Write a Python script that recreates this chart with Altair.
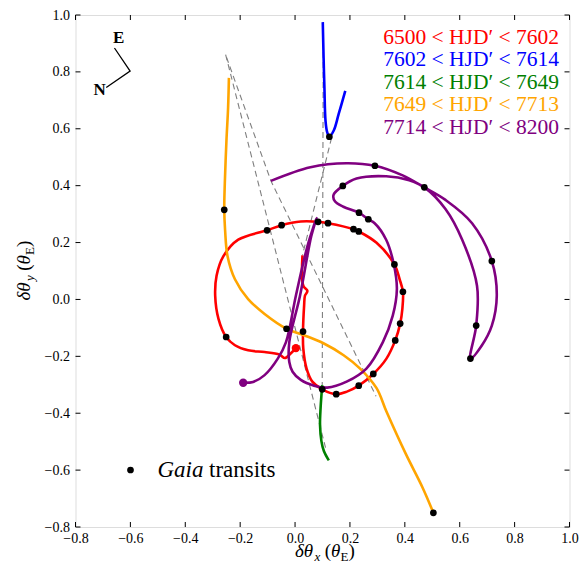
import altair as alt
import pandas as pd

SERIF = "Liberation Serif"
W, H = 494, 512

# ---------------- data ----------------
red_x = [0.003, -0.016, -0.037, -0.057, -0.111, -0.171, -0.219, -0.251, -0.279, -0.291, -0.286, -0.261, -0.207,
         -0.102, -0.049, 0.021, 0.084, 0.120, 0.213, 0.232, 0.297, 0.362, 0.381, 0.393, 0.391, 0.383, 0.365, 0.333,
         0.285, 0.232, 0.189, 0.150, 0.099, 0.063, 0.042, 0.030, 0.029, 0.033, 0.036, 0.045, 0.030, 0.027]
red_y = [-0.171, -0.190, -0.206, -0.194, -0.185, -0.179, -0.161, -0.132, -0.068, 0.013, 0.083, 0.152, 0.210,
         0.243, 0.261, 0.274, 0.273, 0.268, 0.247, 0.239, 0.199, 0.123, 0.071, 0.027, -0.033, -0.085, -0.144, -0.208,
         -0.262, -0.303, -0.324, -0.333, -0.316, -0.289, -0.243, -0.173, -0.113, -0.022, 0.013, 0.030, 0.048, 0.155]

blue_x = [0.101, 0.104, 0.107, 0.111, 0.117, 0.125, 0.141, 0.159, 0.183]
blue_y = [0.975, 0.850, 0.744, 0.628, 0.588, 0.573, 0.594, 0.652, 0.733]

green_x = [0.099, 0.093, 0.091, 0.096, 0.105, 0.123]
green_y = [-0.301, -0.382, -0.440, -0.498, -0.533, -0.566]

orange_x = [-0.241, -0.244, -0.250, -0.256, -0.258, -0.255, -0.246, -0.219, -0.171, -0.111, -0.031, 0.033,
            0.105, 0.177, 0.237, 0.297, 0.333, 0.404, 0.464, 0.504]
orange_y = [0.779, 0.674, 0.558, 0.407, 0.315, 0.245, 0.152, 0.071, 0.001, -0.051, -0.103, -0.126,
            -0.155, -0.196, -0.243, -0.312, -0.394, -0.544, -0.660, -0.750]

purple_x = [-0.189, -0.153, -0.111, -0.063, -0.033, 0.003, 0.045, 0.078, 0.059, 0.018, -0.021, -0.021, -0.009,
            0.021, 0.069, 0.117, 0.188, 0.260, 0.320, 0.356, 0.371, 0.360, 0.332, 0.290, 0.266, 0.233, 0.176,
            0.146, 0.140, 0.174, 0.224, 0.332, 0.416, 0.471, 0.548, 0.609, 0.663, 0.660, 0.639, 0.681, 0.717,
            0.735, 0.717, 0.645, 0.548, 0.471, 0.392, 0.291, 0.188, 0.056, -0.088]
purple_y = [-0.293, -0.290, -0.266, -0.208, -0.150, 0.013, 0.187, 0.286, 0.222, 0.013, -0.150, -0.220, -0.254,
            -0.283, -0.303, -0.310, -0.289, -0.243, -0.150, -0.057, 0.036, 0.123, 0.210, 0.268, 0.282, 0.305, 0.326,
            0.344, 0.367, 0.399, 0.425, 0.433, 0.419, 0.394, 0.318, 0.210, 0.048, -0.092, -0.208, -0.161, -0.092,
            0.013, 0.135, 0.268, 0.350, 0.394, 0.436, 0.470, 0.479, 0.465, 0.417]

seg_names = ["red", "blue", "green", "orange", "purple"]
seg_colors = ["#ff0000", "#0000ff", "#008000", "#ffa500", "#800080"]
seg_labels = ["6500 < HJD′ < 7602", "7602 < HJD′ < 7614", "7614 < HJD′ < 7649",
              "7649 < HJD′ < 7713", "7714 < HJD′ < 8200"]

dash1_x = [-0.253, 0.111]
dash1_y = [0.861, -0.521]
dash2_x = [-0.250, -0.088, 0.295]
dash2_y = [0.852, 0.417, -0.340]
dash3_x = [0.103, 0.099]
dash3_y = [0.975, -0.301]
dash4_x = [0.133, 0.027]
dash4_y = [0.568, 0.155]

gaia_x = [-0.258, -0.102, -0.049, 0.084, 0.120, 0.213, 0.232, 0.362, 0.393, 0.383, 0.365, 0.285, 0.232, 0.150,
          0.099, 0.029, -0.031, -0.251, 0.125, 0.174, 0.233, 0.267, 0.291, 0.471, 0.717, 0.660, 0.639, 0.504]
gaia_y = [0.315, 0.243, 0.261, 0.273, 0.268, 0.247, 0.239, 0.123, 0.027, -0.085, -0.144, -0.262, -0.303, -0.333,
          -0.316, -0.113, -0.103, -0.132, 0.572, 0.399, 0.305, 0.282, 0.470, 0.394, 0.135, -0.092, -0.208, -0.750]

start_x = [0.003, -0.189]
start_y = [-0.171, -0.293]
start_col = ["#ff0000", "#800080"]

compass_x = [-0.658, -0.601, -0.688]
compass_y = [0.884, 0.803, 0.745]
compass_lab = ["E", "N"]
compass_lab_x = [-0.643, -0.712]
compass_lab_y = [0.919, 0.735]

ticks = [-0.8, -0.6, -0.4, -0.2, 0.0, 0.2, 0.4, 0.6, 0.8, 1.0]

# ---------------- tables ----------------
curves = {"red": (red_x, red_y), "blue": (blue_x, blue_y), "green": (green_x, green_y),
          "orange": (orange_x, orange_y), "purple": (purple_x, purple_y)}
rows = []
for k, name in enumerate(seg_names):
    xs, ys = curves[name]
    for i, (a, b) in enumerate(zip(xs, ys)):
        rows.append({"seg": name, "k": k, "i": i, "x": a, "y": b})
curve_df = pd.DataFrame(rows)

drows = []
for j, (xs, ys) in enumerate([(dash1_x, dash1_y), (dash2_x, dash2_y), (dash3_x, dash3_y), (dash4_x, dash4_y)]):
    for i, (a, b) in enumerate(zip(xs, ys)):
        drows.append({"d": j, "i": i, "x": a, "y": b})
dash_df = pd.DataFrame(drows)

gaia_df = pd.DataFrame({"x": gaia_x, "y": gaia_y})
start_df = pd.DataFrame({"x": start_x, "y": start_y, "c": start_col})
comp_df = pd.DataFrame({"x": compass_x, "y": compass_y, "i": list(range(len(compass_x)))})
complab_df = pd.DataFrame({"x": compass_lab_x, "y": compass_lab_y, "t": compass_lab})
tickx_df = pd.DataFrame({"x": ticks})
ticky_df = pd.DataFrame({"y": ticks})
one = pd.DataFrame({"a": [0]})

xs_ = alt.Scale(domain=[-0.8, 1.0], nice=False, zero=False)
ys_ = alt.Scale(domain=[-0.8, 1.0], nice=False, zero=False)
xax = alt.Axis(values=ticks, format=".1f", ticks=False, domain=False, grid=False, title=None,
               labelFont=SERIF, labelFontSize=14, labelColor="black", labelPadding=4,
               labelFlush=False, labelOverlap=False)
yax = alt.Axis(values=ticks, format=".1f", ticks=False, domain=False, grid=False, title=None,
               labelFont=SERIF, labelFontSize=14, labelColor="black", labelPadding=6,
               labelFlush=False, labelOverlap=False)
X = alt.X("x:Q", scale=xs_, axis=xax)
Y = alt.Y("y:Q", scale=ys_, axis=yax)

dashed = alt.Chart(dash_df).mark_line(color="#7f7f7f", strokeWidth=1.1, strokeDash=[6, 4]).encode(
    x=X, y=Y, detail="d:N", order="i:Q")

lines = alt.Chart(curve_df).mark_line(strokeWidth=2.6, interpolate="catmull-rom").encode(
    x=X, y=Y, detail="seg:N", order="i:Q",
    color=alt.Color("seg:N", scale=alt.Scale(domain=seg_names, range=seg_colors), legend=None))

dots = alt.Chart(gaia_df).mark_circle(size=45, color="black", opacity=1).encode(x=X, y=Y)
starts = alt.Chart(start_df).mark_circle(size=70, opacity=1).encode(
    x=X, y=Y, color=alt.Color("c:N", scale=None))

compass = alt.Chart(comp_df).mark_line(color="black", strokeWidth=1.3).encode(x=X, y=Y, order="i:Q")
complab = alt.Chart(complab_df).mark_text(font=SERIF, fontWeight="bold", fontSize=17, color="black",
                                          baseline="middle", align="center").encode(x=X, y=Y, text="t:N")

tb = alt.Chart(tickx_df).mark_rule(color="black", strokeWidth=1).encode(x=X, y=alt.value(H), y2=alt.value(H - 5))
tt = alt.Chart(tickx_df).mark_rule(color="black", strokeWidth=1).encode(x=X, y=alt.value(0), y2=alt.value(5))
tl = alt.Chart(ticky_df).mark_rule(color="black", strokeWidth=1).encode(y=Y, x=alt.value(0), x2=alt.value(5))
tr = alt.Chart(ticky_df).mark_rule(color="black", strokeWidth=1).encode(y=Y, x=alt.value(W), x2=alt.value(W - 5))


def txt(s, x, y, size, style="normal", weight="normal", angle=0, align="left",
        baseline="alphabetic", color="black"):
    return alt.Chart(one).mark_text(text=s, font=SERIF, fontSize=size, fontStyle=style, fontWeight=weight,
                                    angle=angle, align=align, baseline=baseline, color=color).encode(
        x=alt.value(x), y=alt.value(y))


texts = []
leg_y = [23.0, 45.2, 67.5, 90.2, 112.7]
for lab, col, yy in zip(seg_labels, seg_colors, leg_y):
    texts.append(txt(lab, W - 10.5, yy, 21.5, align="right", baseline="middle", color=col))

# Gaia legend
gaia_leg = alt.Chart(one).mark_circle(size=45, color="black", opacity=1).encode(
    x=alt.value(55), y=alt.value(455))
texts.append(txt("Gaia", 82, 455, 23, style="italic", baseline="middle"))
texts.append(txt("transits", 133.5, 455, 23, baseline="middle"))

# x title: δθ_x (θ_E)
by = 542
x0 = 219.5
texts += [
    txt("δθ", x0, by, 19, style="italic"),
    txt("x", x0 + 19.5, by + 3.5, 13, style="italic"),
    txt("(", x0 + 29.8, by, 19),
    txt("θ", x0 + 36.1, by, 19, style="italic"),
    txt("E", x0 + 45.6, by + 3.5, 13),
    txt(")", x0 + 53.6, by, 19),
]
# y title: δθ_y (θ_E), rotated
yx = -45.5
y0 = 285.5
texts += [
    txt("δθ", yx, y0, 19, style="italic", angle=270),
    txt("y", yx + 3.5, y0 - 19.5, 13, style="italic", angle=270),
    txt("(", yx, y0 - 29.8, 19, angle=270),
    txt("θ", yx, y0 - 36.1, 19, style="italic", angle=270),
    txt("E", yx + 3.5, y0 - 45.6, 13, angle=270),
    txt(")", yx, y0 - 53.6, 19, angle=270),
]

chart = alt.layer(dashed, lines, dots, starts, compass, complab, tb, tt, tl, tr, gaia_leg, *texts).properties(
    width=W, height=H,
    autosize=alt.AutoSizeParams(type="none"),
    padding={"left": 67.5, "top": 7, "right": 9.5, "bottom": 37},
).configure_view(stroke="black", strokeWidth=1).configure(background="white")

chart.save("out.html", embed_options={"renderer": "svg", "actions": False})
